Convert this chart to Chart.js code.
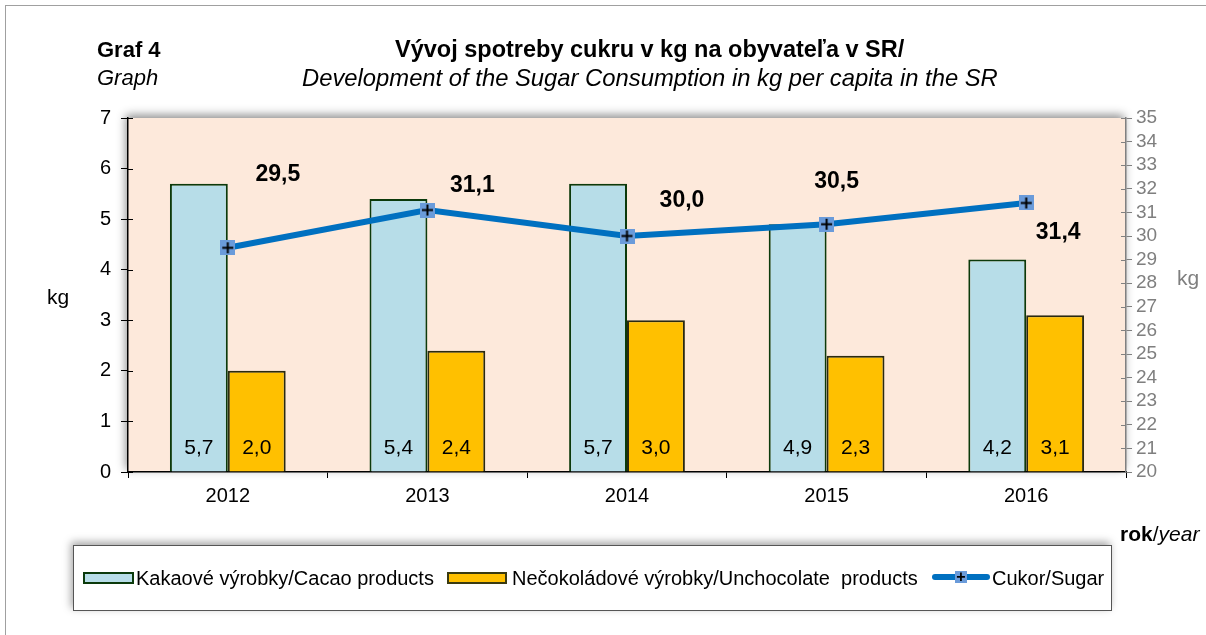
<!DOCTYPE html>
<html>
<head>
<meta charset="utf-8">
<script src="https://cdn.jsdelivr.net/npm/chart.js@4.4.1/dist/chart.umd.min.js"></script>
<style>
  body { margin: 0; background: #fff; font-family: "Liberation Sans", Arial, sans-serif; }
  #wrap { position: relative; width: 1206px; height: 635px; overflow: hidden; }
  #frame { position: absolute; left: 5px; top: 5px; width: 1230px; height: 660px; border: 1px solid #a0a0a0; }
  canvas { position: absolute; left: 0; top: 0; }
  .t { position: absolute; white-space: nowrap; color: #000; line-height: 1; }
  #legend {
    position: absolute; left: 73px; top: 545px; width: 1037px; height: 64px;
    border: 1px solid #555; background: #fff; box-shadow: -2px -3px 8px rgba(0,0,0,0.35);
    font-size: 20px;
  }
  .sw { position: absolute; top: 26px; width: 47px; height: 8px; border: 2px solid #0b3a0b; }
  .lt { position: absolute; top: 22px; line-height: 1; white-space: pre; }
</style>
</head>
<body>
<div id="wrap">
  <div id="frame"></div>
  <canvas id="c" width="1206" height="635"></canvas>
  <div class="t" style="left:97px;top:39px;font-size:22px;font-weight:bold">Graf 4</div>
  <div class="t" style="left:97px;top:67px;font-size:22px;font-style:italic">Graph</div>
  <div class="t" style="left:395px;top:38px;font-size:23.5px;font-weight:bold">Vývoj spotreby cukru v kg na obyvateľa v SR/</div>
  <div class="t" style="left:302px;top:66px;font-size:23.8px;font-style:italic">Development of the Sugar Consumption in kg per capita in the SR</div>
  <div class="t" style="left:47px;top:286px;font-size:21px">kg</div>
  <div class="t" style="left:1177px;top:267px;font-size:21px;color:#7f7f7f">kg</div>
  <div class="t" style="left:1120px;top:523px;font-size:21px"><b>rok</b>/<i>year</i></div>
  <div id="legend">
    <div class="sw" style="left:9px;background:#b7dde8"></div>
    <div class="lt" style="left:62px">Kakaové výrobky/Cacao products</div>
    <div class="sw" style="left:373px;width:56px;background:#ffc000;border-color:#3a3a10"></div>
    <div class="lt" style="left:438px">Nečokoládové výrobky/Unchocolate  products</div>
    <div style="position:absolute;left:858px;top:28px;width:58px;height:6px;background:#0070c0;border-radius:3px"></div>
    <div style="position:absolute;left:881px;top:25px;width:12px;height:12px;background:#6a9bda;text-align:center;line-height:12px;font-weight:bold;font-size:16px">+</div>
    <div class="lt" style="left:918px">Cukor/Sugar</div>
  </div>
</div>
<script>
const years = ["2012", "2013", "2014", "2015", "2016"];
const cacao = [5.7, 5.4, 5.7, 4.9, 4.2];
const unchocolate = [2.0, 2.4, 3.0, 2.3, 3.1];
const sugar = [29.5, 31.1, 30.0, 30.5, 31.4];
const leftTicks = [0, 1, 2, 3, 4, 5, 6, 7];
const rightTicks = [20, 21, 22, 23, 24, 25, 26, 27, 28, 29, 30, 31, 32, 33, 34, 35];

const fmt = (v) => v.toFixed(1).replace(".", ",");
const FONT = "'Liberation Sans', Arial";

// marker: blue square with a black plus
const marker = document.createElement("canvas");
marker.width = 15;
marker.height = 15;
const mctx = marker.getContext("2d");
mctx.fillStyle = "#6a9bda";
mctx.fillRect(0, 0, 15, 15);
mctx.strokeStyle = "#000";
mctx.lineWidth = 2;
mctx.beginPath();
mctx.moveTo(2, 7.5); mctx.lineTo(13, 7.5);
mctx.moveTo(7.5, 2); mctx.lineTo(7.5, 13);
mctx.stroke();

const plotBg = {
  id: "plotBg",
  beforeDraw(chart) {
    const { ctx, chartArea: a } = chart;
    ctx.save();
    ctx.shadowColor = "rgba(0,0,0,0.45)";
    ctx.shadowBlur = 9;
    ctx.shadowOffsetX = -2;
    ctx.shadowOffsetY = -3;
    ctx.fillStyle = "#fde9db";
    ctx.fillRect(a.left, a.top, a.right - a.left, a.bottom - a.top);
    ctx.restore();
  },
  afterDraw(chart) {
    // short tick marks on the inner side of both value axes
    const { ctx, chartArea: a, scales } = chart;
    ctx.save();
    ctx.lineWidth = 1;
    ctx.strokeStyle = "#000";
    ctx.beginPath();
    scales.y.ticks.forEach((t) => {
      const y = Math.round(scales.y.getPixelForValue(t.value)) + 0.5;
      ctx.moveTo(a.left, y); ctx.lineTo(a.left + 5, y);
    });
    ctx.stroke();
    ctx.strokeStyle = "#808080";
    ctx.beginPath();
    scales.y1.ticks.forEach((t) => {
      const y = Math.round(scales.y1.getPixelForValue(t.value)) + 0.5;
      ctx.moveTo(a.right, y); ctx.lineTo(a.right - 5, y);
    });
    ctx.stroke();
    ctx.restore();
  },
};

// label offsets for the sugar values, relative to each point
const sugarOffsets = [[50, -73], [45, -24], [55, -35], [10, -43], [32, 30]];

const labels = {
  id: "labels",
  afterDatasetsDraw(chart) {
    const { ctx } = chart;
    ctx.save();
    ctx.textAlign = "center";
    ctx.textBaseline = "middle";
    ctx.fillStyle = "#000";
    ctx.font = "21px " + FONT;
    [0, 1].forEach((di) => {
      const meta = chart.getDatasetMeta(di);
      meta.data.forEach((bar, i) => {
        ctx.fillText(fmt(chart.data.datasets[di].data[i]), bar.x, chart.chartArea.bottom - 24);
      });
    });
    ctx.font = "bold 23px " + FONT;
    chart.getDatasetMeta(2).data.forEach((pt, i) => {
      ctx.fillText(fmt(sugar[i]), pt.x + sugarOffsets[i][0], pt.y + sugarOffsets[i][1]);
    });
    ctx.restore();
  },
};

new Chart(document.getElementById("c"), {
  data: {
    labels: years,
    datasets: [
      {
        type: "bar",
        label: "Kakaové výrobky/Cacao products",
        data: cacao,
        yAxisID: "y",
        backgroundColor: "#b7dde8",
        borderColor: "#0b3a0b",
        borderWidth: 2,
        borderSkipped: "bottom",
        order: 1,
      },
      {
        type: "bar",
        label: "Nečokoládové výrobky/Unchocolate  products",
        data: unchocolate,
        yAxisID: "y",
        backgroundColor: "#ffc000",
        borderColor: "#2a2a10",
        borderWidth: 2,
        borderSkipped: "bottom",
        order: 1,
      },
      {
        type: "line",
        label: "Cukor/Sugar",
        data: sugar,
        yAxisID: "y1",
        borderColor: "#0070c0",
        borderWidth: 6,
        tension: 0,
        pointStyle: marker,
        order: 0,
      },
    ],
  },
  options: {
    responsive: false,
    animation: false,
    datasets: { bar: { categoryPercentage: 0.58, barPercentage: 1 } },
    layout: { padding: { left: 68, right: 20, top: 118, bottom: 123 } },
    plugins: { legend: { display: false }, tooltip: { enabled: false } },
    scales: {
      x: {
        offset: true,
        afterFit: (s) => { s.height = 40; },
        border: { color: "#000", width: 1.5 },
        grid: { offset: true, drawOnChartArea: false, color: "#000", tickLength: 6 },
        ticks: { color: "#000", font: { size: 20, family: FONT }, padding: 6 },
      },
      y: {
        position: "left",
        min: 0,
        max: 7,
        afterFit: (s) => { s.width = 60; },
        afterBuildTicks: (s) => { s.ticks = leftTicks.map((v) => ({ value: v })); },
        border: { color: "#000", width: 1.5 },
        grid: { drawOnChartArea: false, color: "#000", tickLength: 7 },
        ticks: { color: "#000", font: { size: 20, family: FONT }, padding: 10, autoSkip: false },
      },
      y1: {
        position: "right",
        min: 20,
        max: 35,
        afterFit: (s) => { s.width = 60; },
        afterBuildTicks: (s) => { s.ticks = rightTicks.map((v) => ({ value: v })); },
        border: { color: "#808080", width: 1.5 },
        grid: { drawOnChartArea: false, color: "#808080", tickLength: 6 },
        ticks: { color: "#7f7f7f", font: { size: 19, family: FONT }, padding: 4, autoSkip: false },
      },
    },
  },
  plugins: [plotBg, labels],
});
</script>
</body>
</html>
